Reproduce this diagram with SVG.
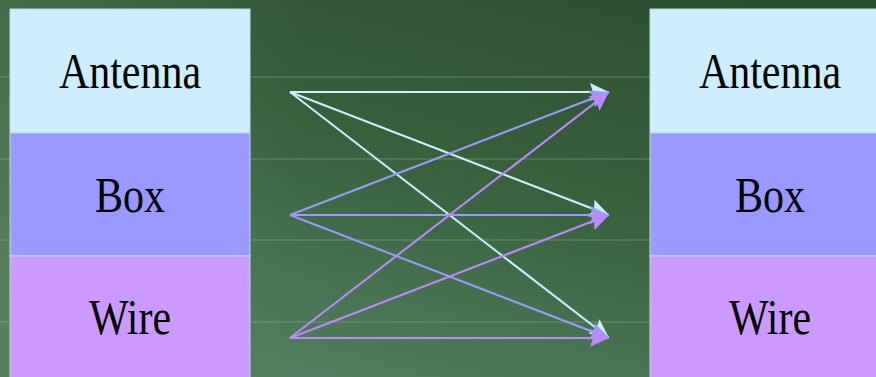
<svg xmlns="http://www.w3.org/2000/svg" width="876" height="377" viewBox="0 0 876 377">
<defs>
<linearGradient id="bg" x1="0.85" y1="0" x2="0.25" y2="1">
<stop offset="0" stop-color="#2c4f2f"/>
<stop offset="0.45" stop-color="#37603b"/>
<stop offset="1" stop-color="#528262"/>
</linearGradient>
<linearGradient id="bgl" x1="0" y1="0" x2="1" y2="0">
<stop offset="0" stop-color="#5a805a" stop-opacity="0.45"/>
<stop offset="0.35" stop-color="#5a805a" stop-opacity="0"/>
</linearGradient>
<marker id="mA" markerUnits="userSpaceOnUse" markerWidth="22" markerHeight="20" refX="19" refY="9" orient="auto"><path d="M0,0 L19,9 L0,18 L3,9 Z" fill="#cceeff"/></marker>
<marker id="mB" markerUnits="userSpaceOnUse" markerWidth="22" markerHeight="20" refX="19" refY="9" orient="auto"><path d="M0,0 L19,9 L0,18 L3,9 Z" fill="#9999ff"/></marker>
<marker id="mW" markerUnits="userSpaceOnUse" markerWidth="22" markerHeight="20" refX="19" refY="9" orient="auto"><path d="M0,0 L19,9 L0,18 L3,9 Z" fill="#bb88ff"/></marker>
</defs>
<style>
.lbl{font-family:"Liberation Serif","Times New Roman",serif;font-size:42px;fill:#000;text-anchor:middle}
.box{stroke:#b8dce8;stroke-width:1}
.a{stroke:#cceeff;stroke-width:2;fill:none;marker-end:url(#mA)}
.b{stroke:#9999ff;stroke-width:2;fill:none;marker-end:url(#mB)}
.w{stroke:#bb88ff;stroke-width:2;fill:none;marker-end:url(#mW)}
.hl{stroke:#8fb08f;stroke-width:2;stroke-opacity:0.25}
</style>
<rect width="876" height="377" fill="url(#bg)"/>
<rect width="876" height="377" fill="url(#bgl)"/>
<g id="bg-lines">
<line class="hl" x1="0" y1="77" x2="876" y2="77"/>
<line class="hl" x1="0" y1="159" x2="876" y2="159"/>
<line class="hl" x1="0" y1="240" x2="876" y2="240"/>
<line class="hl" x1="0" y1="322" x2="876" y2="322"/>
</g>
<g id="left-antenna"><rect class="box" x="10" y="9" width="240" height="124" fill="#cceeff"/><text class="lbl" transform="matrix(1,0,0,1.2,130,88)">Antenna</text></g>
<g id="left-box"><rect class="box" x="10" y="133" width="240" height="123" fill="#9999ff"/><text class="lbl" transform="matrix(1,0,0,1.2,130,212)">Box</text></g>
<g id="left-wire"><rect class="box" x="10" y="256" width="240" height="124" fill="#cc99ff"/><text class="lbl" transform="matrix(1,0,0,1.2,130,334)">Wire</text></g>
<g id="right-antenna"><rect class="box" x="650" y="9" width="240" height="124" fill="#cceeff"/><text class="lbl" transform="matrix(1,0,0,1.2,770,88)">Antenna</text></g>
<g id="right-box"><rect class="box" x="650" y="133" width="240" height="123" fill="#9999ff"/><text class="lbl" transform="matrix(1,0,0,1.2,770,212)">Box</text></g>
<g id="right-wire"><rect class="box" x="650" y="256" width="240" height="124" fill="#cc99ff"/><text class="lbl" transform="matrix(1,0,0,1.2,770,334)">Wire</text></g>
<g id="connectors">
<line class="a" x1="290" y1="92" x2="609" y2="92"/>
<line class="a" x1="290" y1="92" x2="609" y2="215"/>
<line class="a" x1="290" y1="92" x2="609" y2="338"/>
<line class="b" x1="290" y1="215" x2="609" y2="92"/>
<line class="b" x1="290" y1="215" x2="609" y2="215"/>
<line class="b" x1="290" y1="215" x2="609" y2="338"/>
<line class="w" x1="290" y1="338" x2="609" y2="92"/>
<line class="w" x1="290" y1="338" x2="609" y2="215"/>
<line class="w" x1="290" y1="338" x2="609" y2="338"/>
</g>
</svg>
